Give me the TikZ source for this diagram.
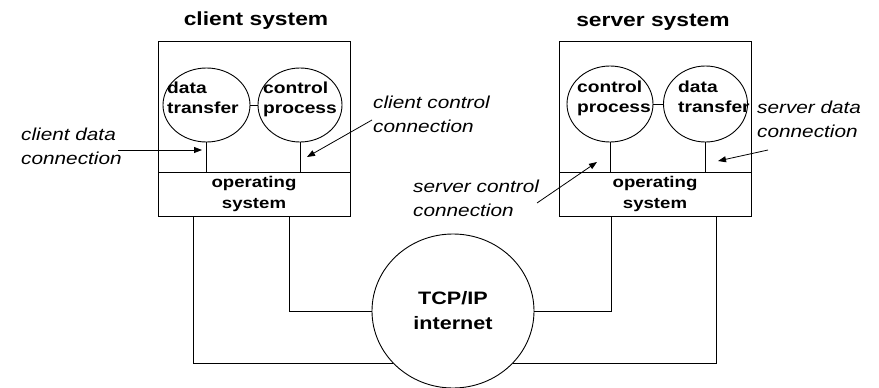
\documentclass[tikz,border=0pt]{standalone}
\usepackage{fontspec}
\setmainfont{Liberation Sans}[FakeStretch=1.2]
\usetikzlibrary{arrows.meta,shapes.geometric}
\begin{document}
\begin{tikzpicture}[x=1pt,y=-1pt,
  box/.style={draw,line width=0.9pt,rectangle,inner sep=0pt},
  proc/.style={draw,line width=0.9pt,ellipse,inner sep=0pt},
  ptext/.style={anchor=north west,inner sep=0pt,align=left,font=\fontsize{16}{20}\selectfont\bfseries},
  ostext/.style={font=\fontsize{15.5}{21}\selectfont\bfseries,align=center},
  title/.style={anchor=base,inner sep=0pt,font=\fontsize{19}{22}\selectfont\bfseries},
  itext/.style={anchor=north west,inner sep=0pt,align=left,font=\fontsize{17.3}{24}\selectfont\itshape},
  wire/.style={line width=0.9pt},
  arr/.style={line width=0.8pt,-{Triangle[length=8pt,width=6pt]}}]
\useasboundingbox (0,0) rectangle (879,388);

% client system
\node[title] (ctitle) at (256,25) {client system};
\node[box,minimum width=192pt,minimum height=131pt] (capp) at (254,106.5) {};
\node[box,minimum width=192pt,minimum height=44pt,ostext] (cos) at (254,194) {operating\\system};
\node[proc,minimum width=87pt,minimum height=74pt] (cdt) at (206.5,105) {};
\node[proc,minimum width=84pt,minimum height=74pt] (ccp) at (300,105) {};
\node[ptext] (cdtt) at (167,82) {data\\transfer};
\node[ptext] (ccpt) at (263,82) {control\\process};
\draw[wire] (cdt.east) -- (ccp.west);
\draw[wire] (cdt.south) -- (cdt.south |- cos.north);
\draw[wire] (ccp.south) -- (ccp.south |- cos.north);

% server system
\node[title] (stitle) at (653,26) {server system};
\node[box,minimum width=192pt,minimum height=130.5pt] (sapp) at (655,106.75) {};
\node[box,minimum width=192pt,minimum height=44.5pt,ostext] (sos) at (655,194.25) {operating\\system};
\node[proc,minimum width=86pt,minimum height=76pt] (scp) at (610,104) {};
\node[proc,minimum width=84pt,minimum height=76pt] (sdt) at (705.5,104) {};
\node[ptext] (scpt) at (577,81) {control\\process};
\node[ptext] (sdtt) at (678,81) {data\\transfer};
\draw[wire] (scp.east) -- (sdt.west);
\draw[wire] (scp.south) -- (scp.south |- sos.north);
\draw[wire] (sdt.south) -- (sdt.south |- sos.north);

% internet
\node[proc,minimum width=162pt,minimum height=154pt,font=\fontsize{18}{25}\selectfont\bfseries,align=center] (tcp) at (453,311) {TCP/IP\\internet};

\draw[wire] ([xshift=-61pt]cos.south) |- (tcp.221);
\draw[wire] ([xshift=35pt]cos.south) |- (tcp.west);
\draw[wire] ([xshift=-44pt]sos.south) |- (tcp.east);
\draw[wire] ([xshift=61pt]sos.south) |- (tcp.319);

% labels
\node[itext] (cdl) at (21,127.5) {client data\\connection};
\node[itext] (ccl) at (373,95.5) {client control\\connection};
\node[itext] (scl) at (413,179.5) {server control\\connection};
\node[itext] (sdl) at (757,100.5) {server data\\connection};

\coordinate (a1s) at (118,150); \coordinate (a1e) at (202,150);
\coordinate (a2s) at (372,120); \coordinate (a2e) at (307,157);
\coordinate (a3s) at (537,203); \coordinate (a3e) at (597,162);
\coordinate (a4s) at (768,150); \coordinate (a4e) at (718,161);
\draw[arr] (a1s) -- (a1e);
\draw[arr] (a2s) -- (a2e);
\draw[arr] (a3s) -- (a3e);
\draw[arr] (a4s) -- (a4e);
\end{tikzpicture}
\end{document}
